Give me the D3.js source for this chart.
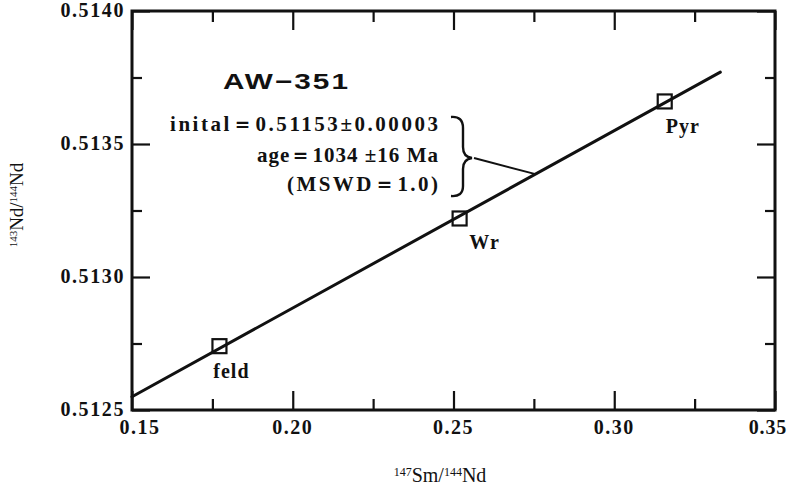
<!DOCTYPE html>
<html>
<head>
<meta charset="utf-8">
<script src="https://cdn.jsdelivr.net/npm/d3@7"></script>
<style>
  html, body { margin: 0; padding: 0; background: #fff; }
  svg { display: block; }
</style>
</head>
<body>
<svg id="chart" width="789" height="495"></svg>
<script>
// ---- data ----
const samples = ["feld", "Wr", "Pyr"];
const smNd = [0.1772, 0.2519, 0.3157];          // 147Sm/144Nd
const ndNd = [0.51274, 0.51322, 0.51366];       // 143Nd/144Nd
const isoX = [0.15, 0.333];                     // isochron ends
const isoY = [0.51255, 0.51377];
const xTicks = [0.15, 0.20, 0.25, 0.30, 0.35];
const xMinor = [0.175, 0.225, 0.275, 0.325];
const yTicks = [0.5125, 0.5130, 0.5135, 0.5140];
const yMinor = [0.51275, 0.51325, 0.51375];
const xTickLabels = ["0.15", "0.20", "0.25", "0.30", "0.35"];
const yTickLabels = ["0.5125", "0.5130", "0.5135", "0.5140"];
const sampleName = "AW\u2212351";
const resultLines = ["inital\uFF1D0.51153\u00B10.00003", "age\uFF1D1034 \u00B116 Ma", "(MSWD\uFF1D1.0)"];

// ---- layout ----
const svg = d3.select("#chart");
const x = d3.scaleLinear().domain([0.15, 0.35]).range([132, 775]);
const y = d3.scaleLinear().domain([0.5125, 0.5140]).range([410, 11]);
const serif = "'Liberation Serif', 'DejaVu Serif', serif";
const ink = "#111";

// tick marks (inward) on all four sides
function styleAxis(g) {
  g.select(".domain").remove();
  g.selectAll(".tick line").attr("stroke", ink).attr("stroke-width", 2.2);
}
svg.append("g").attr("transform", `translate(0,${y(0.5125)})`)
  .call(d3.axisBottom(x).tickValues(xTicks).tickSize(-19).tickFormat("")).call(styleAxis);
svg.append("g").attr("transform", `translate(0,${y(0.5125)})`)
  .call(d3.axisBottom(x).tickValues(xMinor).tickSize(-11).tickFormat("")).call(styleAxis);
svg.append("g").attr("transform", `translate(0,${y(0.5140)})`)
  .call(d3.axisTop(x).tickValues(xTicks).tickSize(-19).tickFormat("")).call(styleAxis);
svg.append("g").attr("transform", `translate(0,${y(0.5140)})`)
  .call(d3.axisTop(x).tickValues(xMinor).tickSize(-11).tickFormat("")).call(styleAxis);
svg.append("g").attr("transform", `translate(${x(0.15)},0)`)
  .call(d3.axisLeft(y).tickValues(yTicks).tickSize(-18).tickFormat("")).call(styleAxis);
svg.append("g").attr("transform", `translate(${x(0.15)},0)`)
  .call(d3.axisLeft(y).tickValues(yMinor).tickSize(-10).tickFormat("")).call(styleAxis);
svg.append("g").attr("transform", `translate(${x(0.35)},0)`)
  .call(d3.axisRight(y).tickValues(yTicks).tickSize(-18).tickFormat("")).call(styleAxis);
svg.append("g").attr("transform", `translate(${x(0.35)},0)`)
  .call(d3.axisRight(y).tickValues(yMinor).tickSize(-10).tickFormat("")).call(styleAxis);

// frame
svg.append("rect")
  .attr("x", x(0.15)).attr("y", y(0.5140))
  .attr("width", x(0.35) - x(0.15)).attr("height", y(0.5125) - y(0.5140))
  .attr("fill", "none").attr("stroke", ink).attr("stroke-width", 3);

// tick labels
const lastX = xTicks.length - 1;
svg.append("g").selectAll("text").data(xTicks).join("text")
  .attr("x", (d, i) => i === lastX ? 787 : x(d) + (i === 0 ? 8 : 0))
  .attr("y", 434)
  .attr("text-anchor", (d, i) => i === lastX ? "end" : "middle")
  .attr("font-family", serif).attr("font-weight", "bold").attr("font-size", 20)
  .attr("letter-spacing", (d, i) => i === lastX ? 0.8 : 1.5)
  .attr("fill", ink)
  .text((d, i) => xTickLabels[i]);

svg.append("g").selectAll("text").data(yTicks).join("text")
  .attr("x", 125)
  .attr("y", d => y(d) + 6)
  .attr("text-anchor", "end")
  .attr("font-family", serif).attr("font-weight", "bold").attr("font-size", 20)
  .attr("letter-spacing", 1.6)
  .attr("fill", ink)
  .text((d, i) => yTickLabels[i]);

// axis titles
const xt = svg.append("text")
  .attr("x", 440).attr("y", 482)
  .attr("text-anchor", "middle")
  .attr("font-family", serif).attr("font-size", 20).attr("fill", ink);
xt.append("tspan").attr("font-size", 12).attr("dy", -6).text("147");
xt.append("tspan").attr("dy", 6).text("Sm/");
xt.append("tspan").attr("font-size", 12).attr("dy", -6).text("144");
xt.append("tspan").attr("dy", 6).text("Nd");

const yt = svg.append("text")
  .attr("transform", "translate(23,205) rotate(-90)")
  .attr("text-anchor", "middle")
  .attr("font-family", serif).attr("font-size", 19).attr("fill", ink);
yt.append("tspan").attr("font-size", 11).attr("dy", -6).text("143");
yt.append("tspan").attr("dy", 6).text("Nd/");
yt.append("tspan").attr("font-size", 11).attr("dy", -6).text("144");
yt.append("tspan").attr("dy", 6).text("Nd");

// isochron line
svg.append("path")
  .datum(isoX.map((d, i) => [d, isoY[i]]))
  .attr("d", d3.line().x(d => x(d[0])).y(d => y(d[1])))
  .attr("fill", "none").attr("stroke", ink).attr("stroke-width", 3).attr("stroke-linecap", "round");

// sample squares
const sq = 14;
svg.append("g").selectAll("rect").data(smNd).join("rect")
  .attr("x", d => x(d) - sq / 2)
  .attr("y", (d, i) => y(ndNd[i]) - sq / 2)
  .attr("width", sq).attr("height", sq)
  .attr("fill", "none").attr("stroke", ink).attr("stroke-width", 2.2);

// sample labels (below-right of point)
const labelOffset = [[12, 32], [25, 31], [18, 32]];
svg.append("g").selectAll("text").data(smNd).join("text")
  .attr("x", (d, i) => x(d) + labelOffset[i][0])
  .attr("y", (d, i) => y(ndNd[i]) + labelOffset[i][1])
  .attr("text-anchor", "middle")
  .attr("font-family", serif).attr("font-weight", "bold").attr("font-size", 20)
  .attr("letter-spacing", 1)
  .attr("fill", ink)
  .text((d, i) => samples[i]);

// sample name
svg.append("text")
  .attr("x", 223).attr("y", 89)
  .attr("font-family", "'Liberation Sans', 'DejaVu Sans', sans-serif")
  .attr("font-weight", "bold").attr("font-size", 22)
  .attr("letter-spacing", 1.5)
  .attr("textLength", 127).attr("lengthAdjust", "spacingAndGlyphs")
  .attr("fill", ink)
  .text(sampleName);

// results block
const resultRight = 438;
const resultBase = [131, 162, 191];
const resultLen = [268, 181, 151];
svg.append("g").selectAll("text").data(resultLines).join("text")
  .attr("x", (d, i) => resultRight - resultLen[i])
  .attr("y", (d, i) => resultBase[i])
  .attr("font-family", serif).attr("font-weight", "bold").attr("font-size", 21)
  .attr("textLength", (d, i) => resultLen[i]).attr("lengthAdjust", "spacing")
  .attr("fill", ink)
  .text(d => d);

// brace
svg.append("path")
  .attr("d", "M451,117 Q463,116 463,128 L463,147 Q463,157 472,158 Q463,159 463,169 L463,186 Q463,197 451,196")
  .attr("fill", "none").attr("stroke", ink).attr("stroke-width", 2.4);

// connector from brace to isochron
const anchorX = 0.2755;
const anchorY = isoY[0] + (isoY[1] - isoY[0]) * (anchorX - isoX[0]) / (isoX[1] - isoX[0]);
svg.append("line")
  .attr("x1", 474).attr("y1", 158)
  .attr("x2", x(anchorX)).attr("y2", y(anchorY))
  .attr("stroke", ink).attr("stroke-width", 2);
</script>
</body>
</html>
